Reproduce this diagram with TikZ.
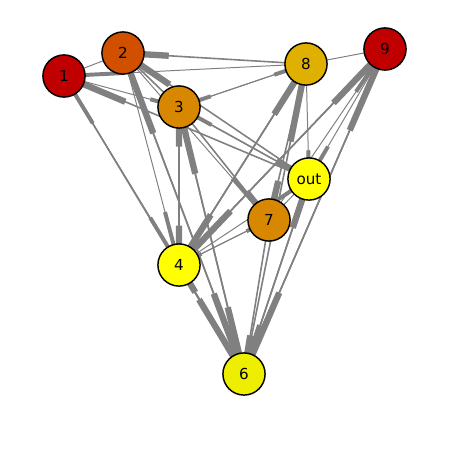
\documentclass[tikz,border=0pt]{standalone}
\usepackage{fontspec}
\setmainfont{DejaVu Sans}
\usetikzlibrary{calc,backgrounds}
\definecolor{edgegray}{HTML}{808080}
\definecolor{nodered}{HTML}{C00000}
\definecolor{noderust}{HTML}{D05000}
\definecolor{nodeorange}{HTML}{D88800}
\definecolor{nodegold}{HTML}{E0B000}
\definecolor{nodeyellow}{HTML}{FFFF00}
\definecolor{nodelime}{HTML}{EEEE00}
\tikzset{
  vertex/.style={circle, draw=black, line width=1.1pt, minimum size=32pt,
    inner sep=0pt, font=\fontsize{11.5}{13}\selectfont},
  link/.style={draw=edgegray, line width=0.75pt},
  linkhead/.style={draw=edgegray, line width=3pt},
  widelink/.style={draw=edgegray, line width=1.2pt},
  widehead/.style={draw=edgegray, line width=4.8pt}
}

\begin{document}
\begin{tikzpicture}[x=0.0266667cm, y=-0.0266667cm]
  \useasboundingbox (0,0) rectangle (450,450);

  \node[vertex, fill=nodered] (n1) at (64,76) {1};
  \node[vertex, fill=noderust] (n2) at (123,53) {2};
  \node[vertex, fill=nodeorange] (n3) at (179,107) {3};
  \node[vertex, fill=nodegold] (n8) at (306,64) {8};
  \node[vertex, fill=nodered] (n9) at (385,49) {9};
  \node[vertex, fill=nodeyellow] (nout) at (309,179) {out};
  \node[vertex, fill=nodeorange] (n7) at (269,220) {7};
  \node[vertex, fill=nodeyellow] (n4) at (179,265) {4};
  \node[vertex, fill=nodelime] (n6) at (244,374) {6};

  \begin{scope}[on background layer]
    % thin edges, head segment = last quarter
    \foreach \s/\t in {2/1, 8/1, 1/3, 1/4, 4/1, 2/4, 2/7, 3/8, 8/3, out/3,
        8/out, 9/8, 9/out, 7/9, 7/out, 4/7, 4/out, 7/4} {
      \draw[link] (n\s.center) -- (n\t.center);
      \draw[linkhead] ($(n\s.center)!0.75!(n\t.center)$) -- (n\t.center);
    }
    % heavier edges
    \foreach \s/\t in {out/1, 8/2, 3/2, out/2, 6/2, 3/4, 4/3, 6/3, 3/out, 3/7,
        4/8, 6/8, 8/7, 4/9, 6/9, 9/4, 8/4, 4/6, 6/4, 7/6, out/6, 9/6, 6/out,
        1/6, 2/6, 3/6} {
      \draw[widelink] (n\s.center) -- (n\t.center);
      \draw[widehead] ($(n\s.center)!0.75!(n\t.center)$) -- (n\t.center);
    }
  \end{scope}
\end{tikzpicture}
\end{document}
